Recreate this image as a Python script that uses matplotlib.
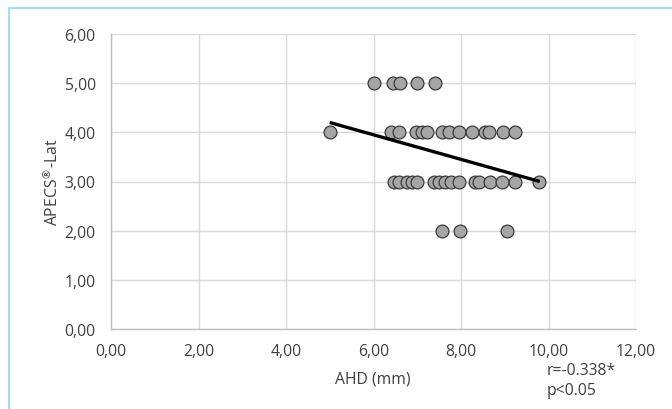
import matplotlib
matplotlib.use("Agg")
import matplotlib.pyplot as plt
import numpy as np
from matplotlib.ticker import FuncFormatter, MultipleLocator

plt.rcParams['font.family'] = ['Open Sans', 'DejaVu Sans']

# Data (AHD mm, APECS-Lat score)
x_row5 = [6.0, 6.45, 6.6, 7.0, 7.4]
x_row4 = [5.0, 6.39, 6.58, 6.96, 7.11, 7.22, 7.57, 7.72, 7.95, 8.25, 8.54, 8.65, 8.97, 9.24]
x_row3 = [6.47, 6.58, 6.77, 6.88, 6.99, 7.38, 7.49, 7.64, 7.76, 7.95,
          8.33, 8.40, 8.67, 8.93, 9.24, 9.79]
x_row2 = [7.57, 7.97, 9.06]

ahd = np.array(x_row5 + x_row4 + x_row3 + x_row2)
apecs = np.array([5.0] * len(x_row5) + [4.0] * len(x_row4) + [3.0] * len(x_row3) + [2.0] * len(x_row2))

# Linear trendline
trend_x = [5.0, 9.8]
trend_y = [4.2, 3.0]

x_label = "AHD (mm)"
y_label = "APECS$^{\\circledR}$-Lat"
annot_r = "r=-0.338*"
annot_p = "p<0.05"

FS = 11.3
TXT = '#404040'

fig = plt.figure(figsize=(6.72, 4.10), dpi=100)
ax = fig.add_axes([111 / 672, 1 - 330 / 410, (636 - 111) / 672, (330 - 35) / 410])

grid_c = '#d9d9d9'
ax.set_xlim(0, 12)
ax.set_ylim(0, 6)
ax.xaxis.set_major_locator(MultipleLocator(2))
ax.yaxis.set_major_locator(MultipleLocator(1))
fmt = FuncFormatter(lambda v, p: f"{v:.2f}".replace('.', ','))
ax.xaxis.set_major_formatter(fmt)
ax.yaxis.set_major_formatter(fmt)
ax.grid(True, color=grid_c, linewidth=1.0)
ax.set_axisbelow(True)
for s in ['top', 'right']:
    ax.spines[s].set_visible(False)
for s in ['left', 'bottom']:
    ax.spines[s].set_color('#bfbfbf')
    ax.spines[s].set_linewidth(1.0)
ax.tick_params(length=0, labelsize=FS, colors=TXT)
ax.tick_params(axis='y', pad=11)
ax.tick_params(axis='x', pad=10)

ax.scatter(ahd, apecs, s=85, facecolor='#a5a5a5', edgecolor='#3a3a3a', linewidth=0.9, zorder=3)

ax.plot(trend_x, trend_y, color='black', linewidth=2.4, zorder=4, solid_capstyle='butt')

fig.text(373 / 672, 1 - 380 / 410, x_label, fontsize=FS, color=TXT, ha='center', va='center')
fig.text(52 / 672, 1 - 182 / 410, y_label, fontsize=FS, color=TXT, ha='center', va='center',
         rotation=90)

fig.text(547 / 672, 1 - 371 / 410, annot_r, fontsize=FS, color=TXT, va='center', ha='left')
fig.text(547 / 672, 1 - 391 / 410, annot_p, fontsize=FS, color=TXT, va='center', ha='left')

# cyan frame (left and top)
fig.add_artist(plt.Line2D([9 / 672, 9 / 672], [0, 1 - 9 / 410], transform=fig.transFigure,
                          color='#9ee3e3', linewidth=1.5))
fig.add_artist(plt.Line2D([9 / 672, 1], [1 - 9 / 410, 1 - 9 / 410], transform=fig.transFigure,
                          color='#9ee3e3', linewidth=1.5))

fig.savefig("out.png", dpi=100)
